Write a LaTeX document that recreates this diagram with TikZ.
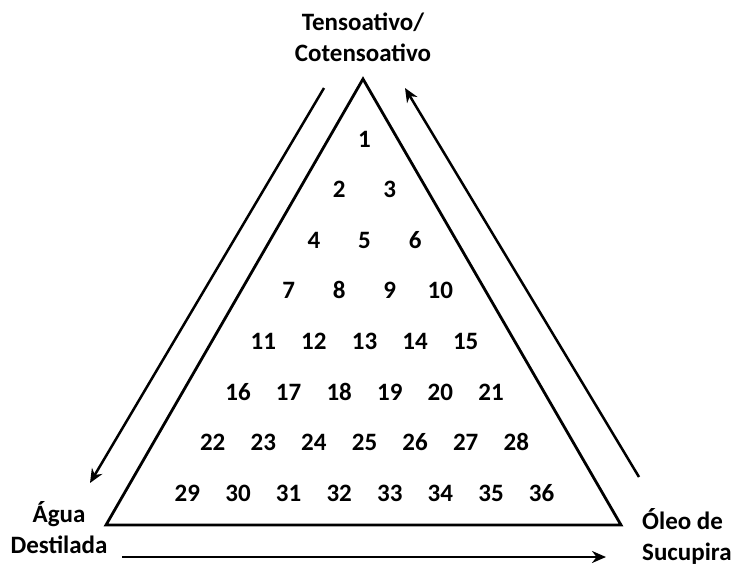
\documentclass[tikz,border=0pt]{standalone}
\usepackage{fontspec}
\setmainfont[Numbers=Lining]{Carlito}
\usetikzlibrary{arrows.meta}
\begin{document}
\begin{tikzpicture}[x=1pt,y=-1pt,
  edge/.style={line width=2.8pt,line join=miter},
  flow/.style={line width=2.5pt,-{Stealth[length=14pt,width=12pt]}},
  lbl/.style={font=\fontsize{25}{31}\selectfont\bfseries,inner sep=0pt,anchor=base},
  num/.style={font=\fontsize{25}{28}\selectfont\bfseries,inner sep=0pt,anchor=base}]
\useasboundingbox (0,0) rectangle (736,568);

% corners of the ternary triangle
\coordinate (apex) at (363,79);
\coordinate (bl) at (106,525);
\coordinate (br) at (621,525);
\draw[edge] (apex) -- (bl) -- (br) -- cycle;

% vertex labels (anchored on the baseline of their last line)
\node[lbl,align=center] (top) at (363,61) {Tensoativo/\\Cotensoativo};
\node[lbl,align=center] (water) at (59,553) {Água\\Destilada};
\node[lbl,align=left,anchor=base west] (oil) at (642,560) {Óleo de\\Sucupira};

% direction arrows along the sides
\coordinate (l1) at (324,88);
\coordinate (l2) at (90,483);
\coordinate (r1) at (639,477);
\coordinate (r2) at (405,88);
\coordinate (b1) at (122,557);
\coordinate (b2) at (606,557);
\draw[flow] (l1) -- (l2);
\draw[flow] (r1) -- (r2);
\draw[flow] (b1) -- (b2);

% numbered formulation points, one row per level
\foreach \r in {1,...,8}{
  \foreach \c in {1,...,\r}{
    \pgfmathtruncatemacro\k{\r*(\r-1)/2+\c}
    \node[num] (n\k) at ({364.5+50.6*(\c-(\r+1)/2)},{147+50.6*(\r-1)}) {\k};
  }
}
\end{tikzpicture}
\end{document}
